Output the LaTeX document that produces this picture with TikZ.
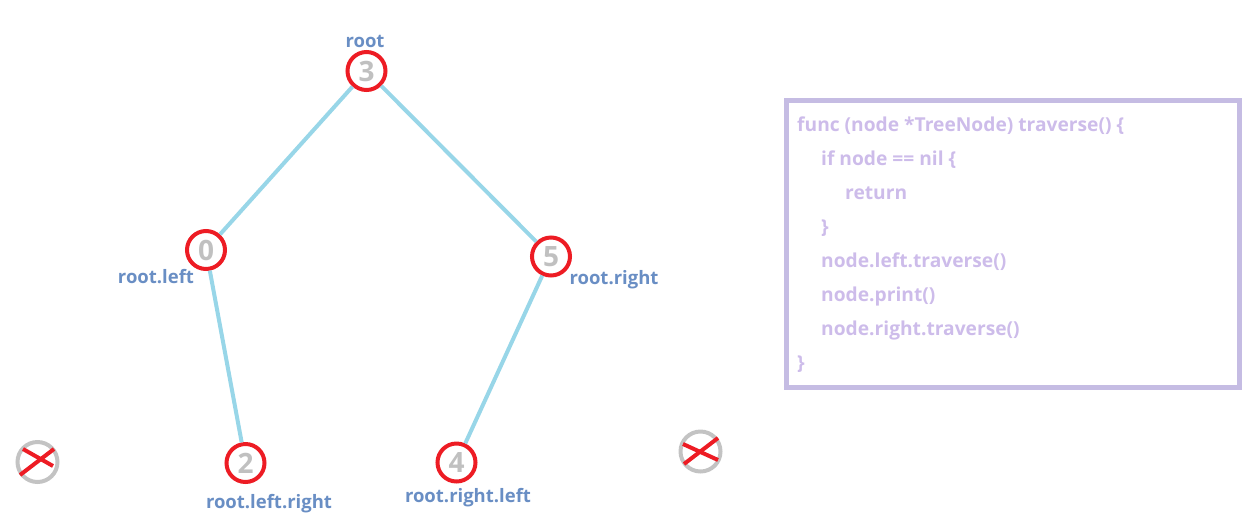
\documentclass[tikz,border=0pt]{standalone}
\usepackage{fontspec}
\setmainfont{Open Sans}
\definecolor{nodered}{RGB}{237,28,36}
\definecolor{edgeblue}{RGB}{152,214,232}
\definecolor{labelblue}{RGB}{105,142,196}
\definecolor{digitgray}{RGB}{192,192,192}
\definecolor{nullgray}{RGB}{195,195,195}
\definecolor{codeborder}{RGB}{197,188,227}
\definecolor{codetext}{RGB}{205,188,234}
\begin{document}
\begin{tikzpicture}[x=1pt,y=-1pt,
  treenode/.style={circle,draw=nodered,line width=4pt,minimum size=38pt,inner sep=0pt,
    text=digitgray,font=\bfseries\fontsize{28}{28}\selectfont},
  nullnode/.style={circle,draw=nullgray,line width=4pt,minimum size=40pt,inner sep=0pt},
  crossline/.style={draw=nodered,line width=4pt},
  treeedge/.style={draw=edgeblue,line width=4pt},
  lbl/.style={anchor=base,text=labelblue,font=\bfseries\fontsize{18.5}{20}\selectfont,inner sep=0pt},
  codeline/.style={anchor=base west,text=codetext,font=\bfseries\fontsize{19.2}{22}\selectfont,inner sep=0pt},
  codebox/.style={draw=codeborder,line width=5pt,minimum width=453pt,minimum height=287pt,inner sep=0pt}
]
\useasboundingbox (0,0) rectangle (1257,531);
% nodes
\node[treenode] (n3) at (366.5,71) {3};
\node[treenode] (n0) at (206,250) {0};
\node[treenode] (n5) at (551,256.5) {5};
\node[treenode] (n2) at (245.5,463) {2};
\node[treenode] (n4) at (456.5,462.5) {4};
\node[nullnode] (nl) at (37.5,462) {};
\node[nullnode] (nr) at (700.5,451.5) {};
% crosses
\coordinate (nla) at (23,449); \coordinate (nlb) at (53,466);
\coordinate (nlc) at (20,475); \coordinate (nld) at (54,449);
\draw[crossline] (nla) -- (nlb);
\draw[crossline] (nlc) -- (nld);
\coordinate (nra) at (683,444); \coordinate (nrb) at (718,460);
\coordinate (nrc) at (684,464); \coordinate (nrd) at (718,438);
\draw[crossline] (nra) -- (nrb);
\draw[crossline] (nrc) -- (nrd);
% edges
\draw[treeedge] (n3) -- (n0);
\draw[treeedge] (n3) -- (n5);
\draw[treeedge] (n0) -- (n2);
\draw[treeedge] (n5) -- (n4);
% labels
\node[lbl] (l3) at (365,47) {root};
\node[lbl] (l0) at (156,283) {root.left};
\node[lbl] (l5) at (614,284) {root.right};
\node[lbl] (l2) at (269,508) {root.left.right};
\node[lbl] (l4) at (468,502) {root.right.left};
% code box
\node[codebox] (code) at (1013,244) {};
\node[codeline] (c1) at (797,131) {func (node *TreeNode) traverse() \{};
\node[codeline] (c2) at (821,165) {if node == nil \{};
\node[codeline] (c3) at (845,199) {return};
\node[codeline] (c4) at (821,233) {\}};
\node[codeline] (c5) at (821,267) {node.left.traverse()};
\node[codeline] (c6) at (821,301) {node.print()};
\node[codeline] (c7) at (821,335) {node.right.traverse()};
\node[codeline] (c8) at (797,369) {\}};
\end{tikzpicture}
\end{document}
